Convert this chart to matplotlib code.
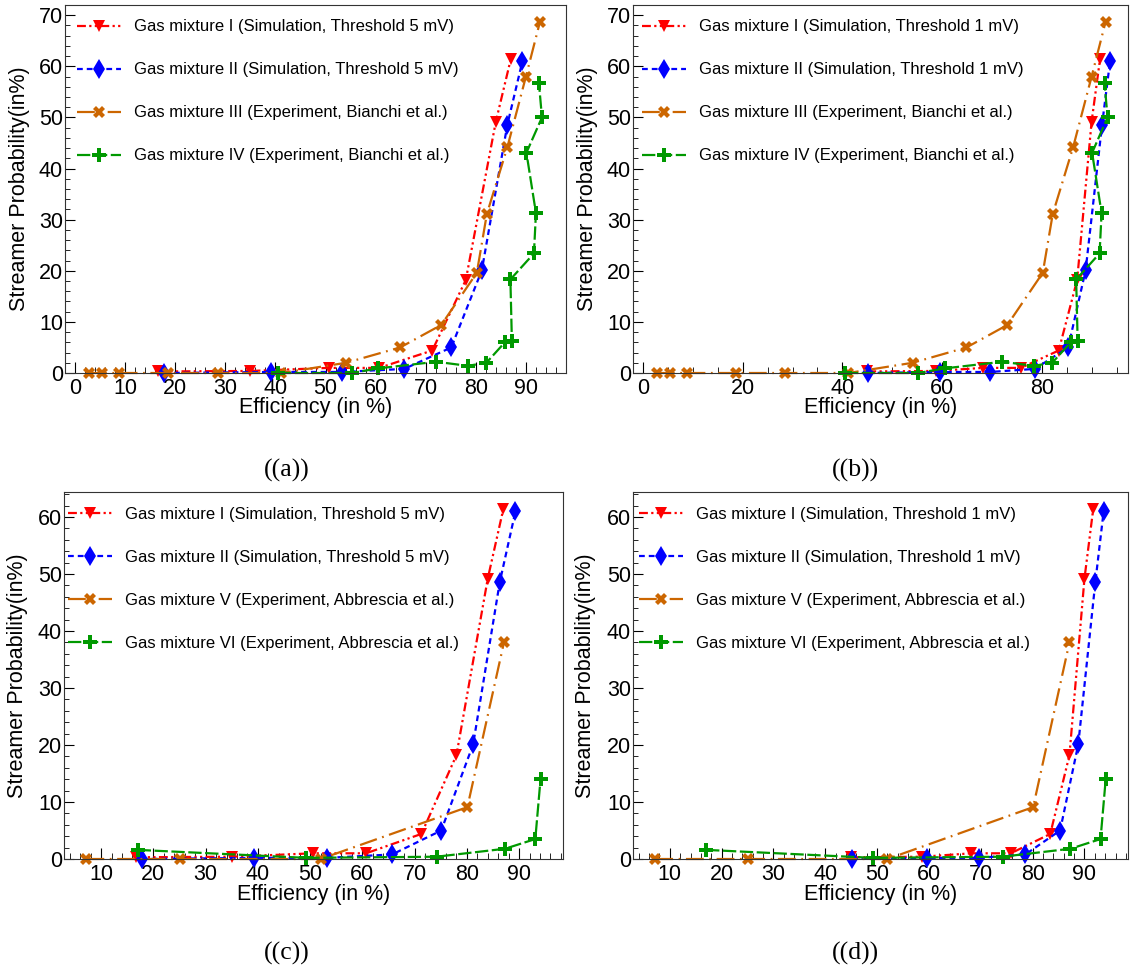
import matplotlib
matplotlib.use("Agg")
import matplotlib.pyplot as plt
from matplotlib.ticker import MultipleLocator

plt.rcParams['font.family'] = ['Liberation Sans', 'DejaVu Sans']

# simulation: efficiency (in %) vs streamer probability (in %)
eff_I_5mv = [16.6, 35.0, 50.6, 60.7, 71.3, 78.0, 84.0, 87.0]
eff_II_5mv = [17.8, 39.2, 53.3, 65.7, 75.1, 81.2, 86.3, 89.3]
eff_I_1mv = [45.0, 58.7, 68.2, 75.8, 83.4, 87.1, 90.0, 91.7]
eff_II_1mv = [45.1, 59.6, 69.6, 78.6, 85.3, 88.8, 92.1, 93.7]
sp_I = [0.3, 0.4, 1.0, 1.0, 4.4, 18.2, 49.2, 61.5]
sp_II = [0.0, 0.2, 0.2, 0.8, 5.0, 20.1, 48.6, 61.0]

# experiment, Bianchi et al.
eff_III = [2.8, 5.4, 8.8, 18.6, 28.5, 41.2, 54.1, 64.9, 73.1, 80.2, 82.2, 86.3, 90.0, 92.8]
sp_III = [0, 0, 0, 0, 0, 0, 2.0, 5.0, 9.4, 19.6, 31.1, 44.2, 58.0, 68.7]
eff_IV = [40.5, 55.2, 60.5, 72.1, 78.4, 82.1, 85.8, 87.2, 86.9, 91.6, 92.0, 90.1, 93.2, 92.6]
sp_IV = [0, 0, 0.9, 2.2, 1.4, 2.0, 6.0, 6.3, 18.3, 23.4, 31.3, 43.1, 50.0, 56.7]

# experiment, Abbrescia et al.
eff_V = [7.2, 25.1, 52.0, 80.1, 87.1]
sp_V = [0, 0, 0, 9.1, 38.0]
eff_VI = [17.0, 49.2, 74.2, 87.3, 93.1, 94.1]
sp_VI = [1.6, 0.2, 0.4, 1.8, 3.5, 14.0]

STYLE_I = dict(color='#ff0000', ls=(0, (4, 1.5, 1, 1.5, 1, 1.5)), marker='v', ms=8.5)
STYLE_II = dict(color='#0000ff', ls=(0, (2.6, 1.8)), marker='d', ms=10)
STYLE_OR = dict(color='#cc6600', ls=(0, (8, 2.5, 0.8, 2.5)), marker='X', ms=9)
STYLE_GR = dict(color='#009900', ls=(0, (6, 1.6)), marker='P', ms=9.5)

W, H = 1130, 971
fig = plt.figure(figsize=(W / 100, H / 100), dpi=100)


def panel(box, series, xlim, ylim, xmajor, xminor, leg_dx, ylab_x, tag, tag_xy):
    l, r, t, b = box
    ax = fig.add_axes([l / W, 1 - b / H, (r - l) / W, (b - t) / H])
    for x, y, label, st in series:
        ax.plot(x, y, label=label, lw=1.6, mew=0, clip_on=False, **st)
    ax.set_xlim(*xlim)
    ax.set_ylim(*ylim)
    ax.xaxis.set_major_locator(MultipleLocator(xmajor))
    ax.xaxis.set_minor_locator(MultipleLocator(xminor))
    ax.yaxis.set_major_locator(MultipleLocator(10))
    ax.yaxis.set_minor_locator(MultipleLocator(2))
    ax.tick_params(which='both', direction='in', top=False, right=False, labelsize=15.5)
    ax.tick_params(axis='x', which='major', length=8, pad=3.5)
    ax.tick_params(axis='x', which='minor', length=4.5)
    ax.tick_params(axis='y', which='major', length=7, pad=1.5)
    ax.tick_params(axis='y', which='minor', length=3.5)
    for sp in ax.spines.values():
        sp.set_linewidth(0.8)
        sp.set_color('#333333')
    ax.set_xlabel('Efficiency (in %)', fontsize=15.5)
    ax.set_ylabel('Streamer Probability(in%)', fontsize=15.5)
    axw, axh = r - l, b - t
    ax.xaxis.label.set_va('center')
    ax.xaxis.set_label_coords(0.5, -35 / axh)
    ax.yaxis.label.set_va('center')
    ax.yaxis.set_label_coords((ylab_x - l) / axw, 0.5)
    ax.legend(loc='upper left', bbox_to_anchor=(leg_dx / axw, 1 - 14.5 / axh),
              frameon=False, fontsize=12, labelspacing=1.68, handlelength=2.65,
              handletextpad=0.75, borderpad=0, borderaxespad=0, numpoints=1)
    fig.text(tag_xy[0] / W, 1 - tag_xy[1] / H, tag, family='Liberation Serif',
             fontsize=18.5, ha='center', va='center')
    return ax


panel((65, 566, 5, 373),
      [(eff_I_5mv, sp_I, 'Gas mixture I (Simulation, Threshold 5 mV)', STYLE_I),
       (eff_II_5mv, sp_II, 'Gas mixture II (Simulation, Threshold 5 mV)', STYLE_II),
       (eff_III, sp_III, 'Gas mixture III (Experiment, Bianchi et al.)', STYLE_OR),
       (eff_IV, sp_IV, 'Gas mixture IV (Experiment, Bianchi et al.)', STYLE_GR)],
      (-2, 98), (0, 72), 10, 2, 12, 20, '((a))', (287, 470))

panel((633, 1128, 5, 373),
      [(eff_I_1mv, sp_I, 'Gas mixture I (Simulation, Threshold 1 mV)', STYLE_I),
       (eff_II_1mv, sp_II, 'Gas mixture II (Simulation, Threshold 1 mV)', STYLE_II),
       (eff_III, sp_III, 'Gas mixture III (Experiment, Bianchi et al.)', STYLE_OR),
       (eff_IV, sp_IV, 'Gas mixture IV (Experiment, Bianchi et al.)', STYLE_GR)],
      (-2, 97.3), (0, 72), 20, 5, 9, 588, '((b))', (855, 470))

panel((64, 563, 492, 859),
      [(eff_I_5mv, sp_I, 'Gas mixture I (Simulation, Threshold 5 mV)', STYLE_I),
       (eff_II_5mv, sp_II, 'Gas mixture II (Simulation, Threshold 5 mV)', STYLE_II),
       (eff_V, sp_V, 'Gas mixture V (Experiment, Abbrescia et al.)', STYLE_OR),
       (eff_VI, sp_VI, 'Gas mixture VI (Experiment, Abbrescia et al.)', STYLE_GR)],
      (2.9, 98.4), (0, 64.4), 10, 2, 4, 18, '((c))', (287, 953))

panel((633, 1128, 492, 859),
      [(eff_I_1mv, sp_I, 'Gas mixture I (Simulation, Threshold 1 mV)', STYLE_I),
       (eff_II_1mv, sp_II, 'Gas mixture II (Simulation, Threshold 1 mV)', STYLE_II),
       (eff_V, sp_V, 'Gas mixture V (Experiment, Abbrescia et al.)', STYLE_OR),
       (eff_VI, sp_VI, 'Gas mixture VI (Experiment, Abbrescia et al.)', STYLE_GR)],
      (2.9, 98.4), (0, 64.4), 10, 2, 6, 585, '((d))', (855, 953))

fig.savefig('out.png', dpi=100)
